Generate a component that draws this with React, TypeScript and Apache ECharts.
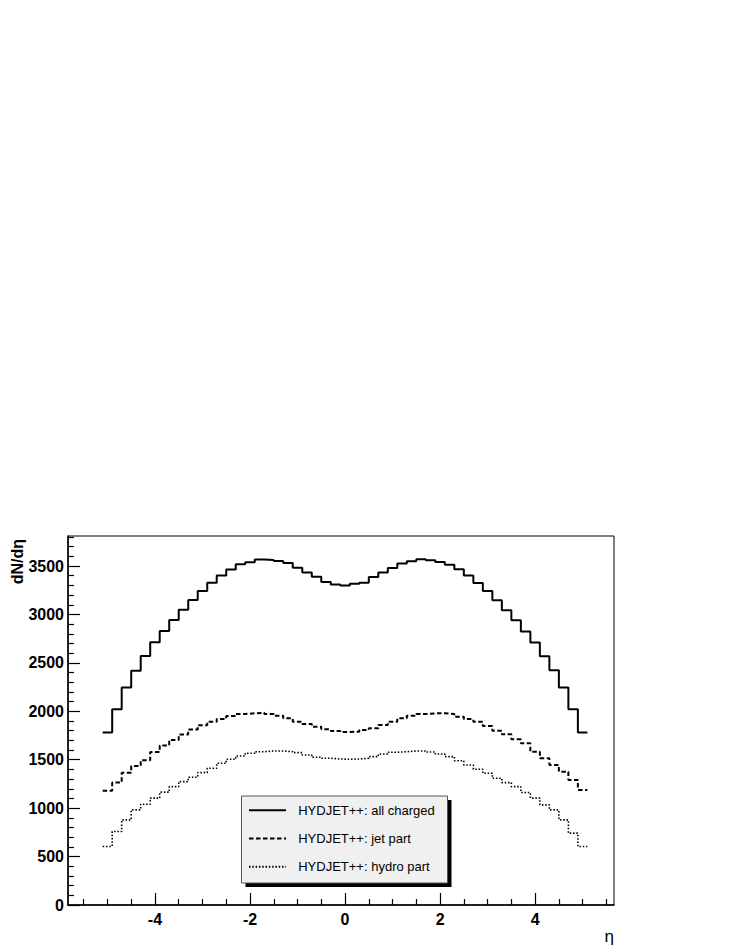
import React, { useEffect, useRef } from "react";
import * as echarts from "echarts";

// Histogram binning (eta): 51 bins of width 0.2 starting at -5.1
const binStart = -5.1;
const binWidth = 0.2;

const seriesNames = ["HYDJET++: all charged", "HYDJET++: jet part", "HYDJET++: hydro part"];

const allCharged = [
  1780, 2020, 2247, 2418, 2572, 2712, 2830, 2943, 3048, 3148, 3242, 3327, 3401,
  3465, 3518, 3540, 3568, 3562, 3551, 3530, 3482, 3434, 3390, 3335, 3310, 3298,
  3316, 3328, 3387, 3432, 3479, 3525, 3548, 3570, 3560, 3541, 3512, 3466, 3401,
  3325, 3242, 3146, 3043, 2940, 2824, 2710, 2569, 2425, 2247, 2022, 1780,
];

const jetPart = [
  1180, 1265, 1365, 1435, 1495, 1580, 1648, 1704, 1760, 1812, 1856, 1892, 1920,
  1951, 1972, 1979, 1985, 1972, 1954, 1927, 1892, 1869, 1841, 1814, 1796, 1786,
  1790, 1807, 1824, 1858, 1892, 1927, 1954, 1972, 1979, 1979, 1972, 1944, 1920,
  1892, 1848, 1800, 1762, 1711, 1670, 1583, 1515, 1446, 1377, 1291, 1188,
];

const hydroPart = [
  604, 759, 879, 982, 1041, 1103, 1165, 1222, 1274, 1319, 1367, 1412, 1463,
  1505, 1539, 1567, 1583, 1590, 1590, 1583, 1573, 1549, 1525, 1515, 1508, 1505,
  1508, 1515, 1532, 1559, 1577, 1583, 1590, 1590, 1580, 1559, 1532, 1490, 1446,
  1402, 1360, 1309, 1264, 1222, 1161, 1103, 1034, 982, 879, 742, 604,
];

const xMajorTicks = [-4, -2, 0, 2, 4];
const xMinorTicks = [-5.5, -5, -4.5, -3.5, -3, -2.5, -1.5, -1, -0.5, 0.5, 1, 1.5, 2.5, 3, 3.5, 4.5, 5, 5.5];
const yMajorTicks = [0, 500, 1000, 1500, 2000, 2500, 3000, 3500];
const yMinorTicks = [
  100, 200, 300, 400, 600, 700, 800, 900, 1100, 1200, 1300, 1400, 1600, 1700, 1800, 1900,
  2100, 2200, 2300, 2400, 2600, 2700, 2800, 2900, 3100, 3200, 3300, 3400, 3600, 3700, 3800,
];

const xMin = -5.83;
const xMax = 5.66;
const yMin = 0;
const yMax = 3810;

function toSteps(values: number[]): number[][] {
  const pts = values.map((v, i) => [binStart + i * binWidth, v]);
  pts.push([binStart + values.length * binWidth, values[values.length - 1]]);
  return pts;
}

const FONT = "'Liberation Sans', Arial, Helvetica, sans-serif";

export default function App() {
  const ref = useRef<HTMLDivElement>(null);
  useEffect(() => {
    if (!ref.current) return;
    const chart = echarts.init(ref.current, null, { renderer: "svg" });
    const gridL = 68, gridT = 536, gridW = 546, gridH = 369;
    const option: any = {
      animation: false,
      backgroundColor: "#fff",
      color: ["#000", "#000", "#000"],
      grid: {
        left: gridL, top: gridT, width: gridW, height: gridH,
        show: true, borderColor: "#000", borderWidth: 1, backgroundColor: "transparent",
      },
      xAxis: [
        {
          type: "value", min: xMin, max: xMax, position: "bottom",
          axisLine: { show: true, onZero: false, lineStyle: { color: "#000", width: 1.5 } },
          axisTick: { show: true, inside: true, length: 12, customValues: xMajorTicks, lineStyle: { color: "#000", width: 1.2 } },
          axisLabel: {
            show: true, customValues: xMajorTicks, margin: 6, color: "#000",
            fontFamily: FONT, fontWeight: "bold", fontSize: 16,
            formatter: (v: number) => String(v),
          },
          splitLine: { show: false },
        },
        {
          type: "value", min: xMin, max: xMax, position: "bottom",
          axisLine: { show: false, onZero: false },
          axisTick: { show: true, inside: true, length: 6, customValues: xMinorTicks, lineStyle: { color: "#000", width: 1.2 } },
          axisLabel: { show: false },
          splitLine: { show: false },
        },
      ],
      yAxis: [
        {
          type: "value", min: yMin, max: yMax, position: "left",
          axisLine: { show: true, onZero: false, lineStyle: { color: "#000", width: 1.5 } },
          axisTick: { show: true, inside: true, length: 12, customValues: yMajorTicks, lineStyle: { color: "#000", width: 1.2 } },
          axisLabel: {
            show: true, customValues: yMajorTicks, margin: 4, color: "#000",
            fontFamily: FONT, fontWeight: "bold", fontSize: 16,
            formatter: (v: number) => String(v),
          },
          splitLine: { show: false },
        },
        {
          type: "value", min: yMin, max: yMax, position: "left",
          axisLine: { show: false, onZero: false },
          axisTick: { show: true, inside: true, length: 6, customValues: yMinorTicks, lineStyle: { color: "#000", width: 1.2 } },
          axisLabel: { show: false },
          splitLine: { show: false },
        },
      ],
      legend: {
        orient: "vertical", left: 248, top: 803.7, padding: 0,
        itemWidth: 37, itemHeight: 14, itemGap: 15.3,
        selectedMode: false, z: 20,
        itemStyle: { opacity: 0 },
        formatter: (name: string) => "  " + name,
        textStyle: { fontFamily: FONT, fontSize: 13, color: "#000" },
        data: seriesNames,
      },
      series: [
        {
          name: seriesNames[0], type: "line", step: "end", symbol: "none",
          xAxisIndex: 0, yAxisIndex: 0,
          itemStyle: { color: "#000" },
          lineStyle: { color: "#000", width: 2, type: "solid" },
          data: toSteps(allCharged), z: 5,
        },
        {
          name: seriesNames[1], type: "line", step: "end", symbol: "none",
          xAxisIndex: 0, yAxisIndex: 0,
          itemStyle: { color: "#000" },
          lineStyle: { color: "#000", width: 2, type: [4.5, 2.5] },
          data: toSteps(jetPart), z: 5,
        },
        {
          name: seriesNames[2], type: "line", step: "end", symbol: "none",
          xAxisIndex: 0, yAxisIndex: 0,
          itemStyle: { color: "#000" },
          lineStyle: { color: "#000", width: 1.6, type: [1.5, 1.8] },
          data: toSteps(hydroPart), z: 5,
        },
      ],
      graphic: [
        {
          type: "rect", z: 10, silent: true,
          shape: { x: 245.5, y: 800, width: 206, height: 87 },
          style: { fill: "#000" },
        },
        {
          type: "rect", z: 11, silent: true,
          shape: { x: 241.5, y: 796, width: 206, height: 87 },
          style: { fill: "#f0f0f0", stroke: "#555", lineWidth: 1 },
        },
        {
          type: "text", z: 12, silent: true,
          x: 17, y: 539, rotation: Math.PI / 2,
          style: {
            text: "dN/dη", fill: "#000", font: `bold 16px ${FONT}`,
            align: "right", verticalAlign: "middle",
          },
        },
        {
          type: "text", z: 12, silent: true,
          x: 614, y: 936,
          style: {
            text: "η", fill: "#000", font: `17px ${FONT}`,
            align: "right", verticalAlign: "middle",
          },
        },
      ],
    };
    chart.setOption(option);
    return () => chart.dispose();
  }, []);
  return (
    <div
      ref={ref}
      style={{ position: "fixed", left: 0, top: 0, width: 736, height: 952, background: "#fff" }}
    />
  );
}
